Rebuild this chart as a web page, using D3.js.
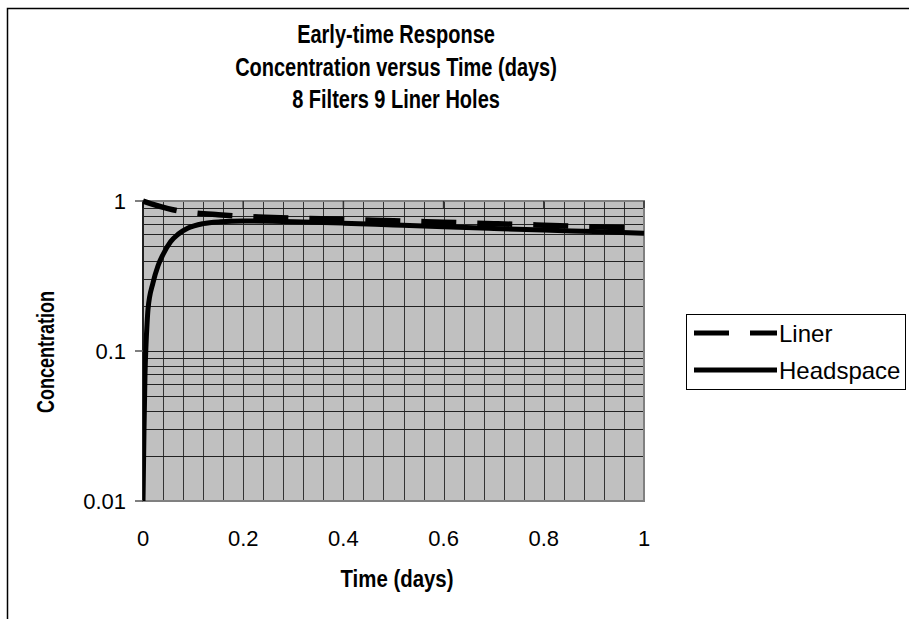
<!DOCTYPE html>
<html>
<head>
<meta charset="utf-8">
<script src="https://cdn.jsdelivr.net/npm/d3@7"></script>
<style>
  body { margin: 0; background: #fff; }
  text { font-family: Arial, "Liberation Sans", sans-serif; }
</style>
</head>
<body>
<div id="chart"></div>
<script>
// values
var linerTime = [0, 0.02, 0.05, 0.07, 0.1, 0.15, 0.2, 0.3, 0.4, 0.5, 0.6, 0.7, 0.8, 0.9, 1.0];
var linerConc = [1.0, 0.95, 0.89, 0.86, 0.835, 0.81, 0.79, 0.77, 0.755, 0.738, 0.722, 0.706, 0.69, 0.673, 0.657];

var headTime = [0, 0.002, 0.004, 0.006, 0.008, 0.01, 0.02, 0.03, 0.04, 0.055, 0.07, 0.09, 0.12, 0.155, 0.2, 0.3, 0.4, 0.5, 0.6, 0.7, 0.8, 0.9, 1.0];
var headConc = [0.01, 0.03, 0.07, 0.11, 0.15, 0.19, 0.285, 0.37, 0.44, 0.535, 0.6, 0.66, 0.707, 0.727, 0.735, 0.728, 0.712, 0.692, 0.673, 0.656, 0.64, 0.625, 0.61];

var xTicks = [0, 0.2, 0.4, 0.6, 0.8, 1];
var yTicks = [0.01, 0.1, 1];
var titleLines = ["Early-time Response", "Concentration versus Time (days)", "8 Filters 9 Liner Holes"];

var svgWidth = 909;
var svgHeight = 619;

var plot = { left: 143, top: 201, right: 644, bottom: 501 };

var svg = d3.select("#chart")
    .append("svg")
    .attr("width", svgWidth)
    .attr("height", svgHeight);

svg.append("rect")
    .attr("width", svgWidth).attr("height", svgHeight)
    .attr("fill", "#fff");

// chart area border (runs off right and bottom)
svg.append("rect")
    .attr("x", 7.5).attr("y", 8.5)
    .attr("width", 1000).attr("height", 1000)
    .attr("fill", "none")
    .attr("stroke", "#000")
    .attr("stroke-width", 1.5);

var xScale = d3.scaleLinear()
    .domain([0, 1])
    .range([plot.left, plot.right]);

var yScale = d3.scaleLog()
    .domain([0.01, 1])
    .range([plot.bottom, plot.top]);

// plot background
svg.append("rect")
    .attr("x", plot.left).attr("y", plot.top)
    .attr("width", plot.right - plot.left)
    .attr("height", plot.bottom - plot.top)
    .attr("fill", "#c0c0c0");

// vertical gridlines every 0.04
var xGrid = d3.range(1, 25).map(i => i * 0.04);
svg.append("g")
    .selectAll("line")
    .data(xGrid)
    .enter()
    .append("line")
    .attr("x1", d => Math.round(xScale(d)) + 0.5)
    .attr("x2", d => Math.round(xScale(d)) + 0.5)
    .attr("y1", plot.top)
    .attr("y2", plot.bottom)
    .attr("stroke", "#333")
    .attr("stroke-width", 1);

// horizontal gridlines, log minor + major
var yGrid = [];
[0.01, 0.1].forEach(function (base) {
    for (var k = 1; k <= 9; k++) yGrid.push(base * k);
});
yGrid = yGrid.filter(d => d > 0.01);
svg.append("g")
    .selectAll("line")
    .data(yGrid)
    .enter()
    .append("line")
    .attr("x1", plot.left)
    .attr("x2", plot.right)
    .attr("y1", d => Math.round(yScale(d)) + 0.5)
    .attr("y2", d => Math.round(yScale(d)) + 0.5)
    .attr("stroke", "#222")
    .attr("stroke-width", 1);

// plot border
svg.append("rect")
    .attr("x", plot.left).attr("y", plot.top)
    .attr("width", plot.right - plot.left)
    .attr("height", plot.bottom - plot.top)
    .attr("fill", "none")
    .attr("stroke", "#808080")
    .attr("stroke-width", 2);

// x axis line sits at the top (crosses at 1), ticks inward
svg.append("g")
    .selectAll("line")
    .data(xTicks)
    .enter()
    .append("line")
    .attr("x1", d => xScale(d))
    .attr("x2", d => xScale(d))
    .attr("y1", plot.top)
    .attr("y2", plot.top + 7)
    .attr("stroke", "#333")
    .attr("stroke-width", 1.5);

// y axis line and ticks
svg.append("line")
    .attr("x1", plot.left).attr("x2", plot.left)
    .attr("y1", plot.top).attr("y2", plot.bottom)
    .attr("stroke", "#000")
    .attr("stroke-width", 1.5);

svg.append("g")
    .selectAll("line")
    .data(yTicks)
    .enter()
    .append("line")
    .attr("x1", plot.left - 8)
    .attr("x2", plot.left)
    .attr("y1", d => yScale(d))
    .attr("y2", d => yScale(d))
    .attr("stroke", "#555")
    .attr("stroke-width", 1.5);

var fmt = d3.format("~g");

svg.append("g")
    .selectAll("text")
    .data(yTicks)
    .enter()
    .append("text")
    .attr("x", 126)
    .attr("y", d => yScale(d) + 8)
    .attr("text-anchor", "end")
    .style("font-size", "22px")
    .text(d => fmt(d));

// x tick labels at the bottom
svg.append("g")
    .selectAll("text")
    .data(xTicks)
    .enter()
    .append("text")
    .attr("x", d => xScale(d))
    .attr("y", 546)
    .attr("text-anchor", "middle")
    .style("font-size", "22px")
    .text(d => fmt(d));

// series
svg.append("clipPath").attr("id", "plotClip")
    .append("rect")
    .attr("x", plot.left).attr("y", plot.top - 3)
    .attr("width", plot.right - plot.left + 1)
    .attr("height", plot.bottom - plot.top + 3);

var line = d3.line()
    .x(d => xScale(d[0]))
    .y(d => yScale(d[1]))
    .curve(d3.curveMonotoneX);

var linerData = d3.zip(linerTime, linerConc);
var headData = d3.zip(headTime, headConc);

var series = svg.append("g").attr("clip-path", "url(#plotClip)");

series.append("path")
    .datum(linerData)
    .attr("d", line)
    .attr("fill", "none")
    .attr("stroke", "#000")
    .attr("stroke-width", 5.5)
    .attr("stroke-dasharray", "35,21");

series.append("path")
    .datum(headData)
    .attr("d", line)
    .attr("fill", "none")
    .attr("stroke", "#000")
    .attr("stroke-width", 5);

// title (narrow bold lettering)
svg.append("g")
    .selectAll("text")
    .data(titleLines)
    .enter()
    .append("text")
    .attr("transform", (d, i) => `translate(396, ${43 + i * 32.5}) scale(0.8, 1)`)
    .attr("text-anchor", "middle")
    .style("font-size", "25px")
    .style("font-weight", "bold")
    .text(d => d);

// axis titles
svg.append("text")
    .attr("transform", "translate(54, 352) rotate(-90) scale(0.75, 1)")
    .attr("text-anchor", "middle")
    .style("font-size", "24px")
    .style("font-weight", "bold")
    .text("Concentration");

svg.append("text")
    .attr("transform", "translate(397, 587) scale(0.85, 1)")
    .attr("text-anchor", "middle")
    .style("font-size", "24px")
    .style("font-weight", "bold")
    .text("Time (days)");

// legend
var legend = svg.append("g");
legend.append("rect")
    .attr("x", 686.5).attr("y", 314.5)
    .attr("width", 219).attr("height", 75)
    .attr("fill", "#fff")
    .attr("stroke", "#000")
    .attr("stroke-width", 1);

var legendItems = [
    { name: "Liner", dash: "35,21", width: 5 },
    { name: "Headspace", dash: null, width: 5 }
];

legendItems.forEach(function (item, i) {
    var y = 333 + i * 37;
    legend.append("line")
        .attr("x1", 694).attr("x2", 777)
        .attr("y1", y).attr("y2", y)
        .attr("stroke", "#000")
        .attr("stroke-width", item.width)
        .attr("stroke-dasharray", item.dash);
    legend.append("text")
        .attr("x", 779)
        .attr("y", y + 8.5)
        .style("font-size", "24px")
        .text(item.name);
});
</script>
</body>
</html>
